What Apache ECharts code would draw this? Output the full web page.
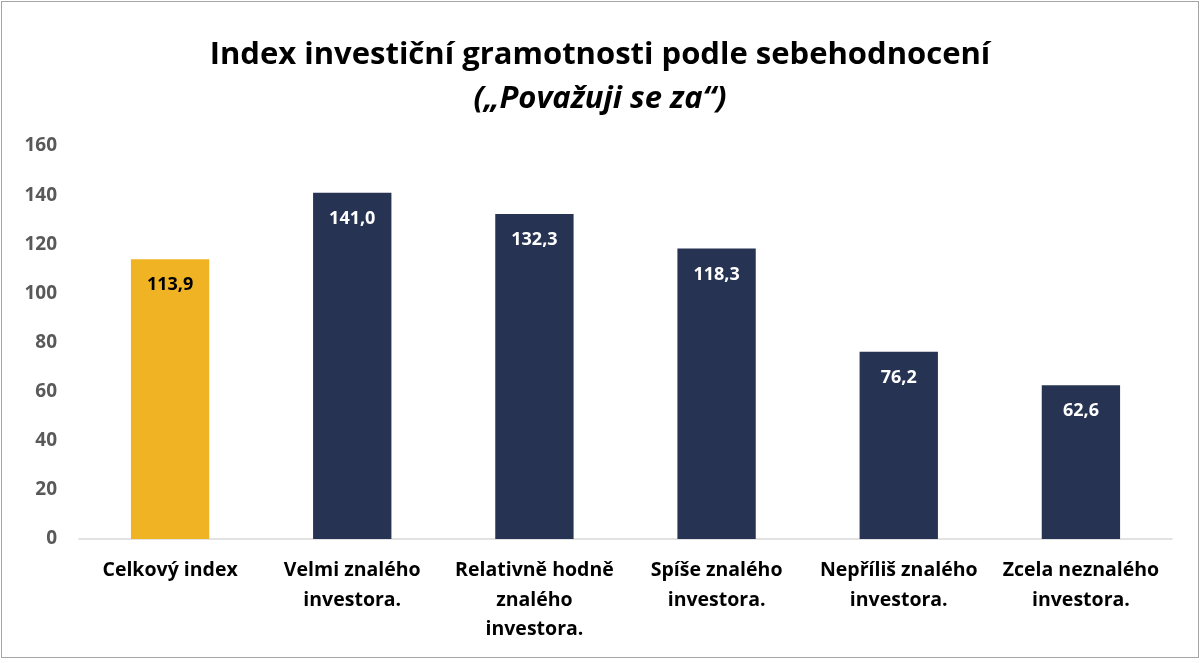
<!DOCTYPE html>
<html>
<head>
<meta charset="utf-8">
<script src="https://cdn.jsdelivr.net/npm/echarts@6/dist/echarts.min.js"></script>
<style>
html,body{margin:0;padding:0;background:#fff;}
#c{width:1196px;height:655px;border:1px solid #a6a6a6;margin:1px 0 0 1px;}
</style>
</head>
<body>
<div id="c"></div>
<script>
const categories = ["Celkový index", "Velmi znalého\ninvestora.", "Relativně hodně\nznalého\ninvestora.", "Spíše znalého\ninvestora.", "Nepříliš znalého\ninvestora.", "Zcela neznalého\ninvestora."];
const values = [113.9, 141.0, 132.3, 118.3, 76.2, 62.6];
const barColors = ["#F0B323", "#263352", "#263352", "#263352", "#263352", "#263352"];
const labelColors = ["#000000", "#ffffff", "#ffffff", "#ffffff", "#ffffff", "#ffffff"];

const chart = echarts.init(document.getElementById('c'));
chart.setOption({
  animation: false,
  title: [{
    text: 'Index investiční gramotnosti podle sebehodnocení',
    left: 'center', top: 33,
    textStyle: {fontFamily: 'Open Sans', fontWeight: 'bold', fontSize: 31, color: '#000'}
  }, {
    text: '(„Považuji se za“)',
    left: 'center', top: 77,
    textStyle: {fontFamily: 'Open Sans', fontWeight: 'bold', fontStyle: 'italic', fontSize: 31, color: '#000'}
  }],
  grid: {left: 77, right: 26, top: 144, bottom: 118, containLabel: false},
  xAxis: {
    type: 'category',
    data: categories,
    axisLine: {lineStyle: {color: '#d9d9d9', width: 1.5}},
    axisTick: {show: false},
    axisLabel: {interval: 0, fontFamily: 'Open Sans', fontWeight: 'bold', fontSize: 19.5, color: '#000', lineHeight: 29.5, margin: 17}
  },
  yAxis: {
    type: 'value', min: 0, max: 160, interval: 20,
    splitLine: {show: false},
    axisLine: {show: false},
    axisTick: {show: false},
    axisLabel: {fontFamily: 'Open Sans', fontWeight: 'bold', fontSize: 19, color: '#595959', margin: 22}
  },
  series: [{
    type: 'bar',
    barWidth: '43%',
    data: values.map((v, i) => ({
      value: v,
      itemStyle: {color: barColors[i]},
      label: {color: labelColors[i]}
    })),
    label: {
      show: true, position: 'insideTop', distance: 17,
      fontFamily: 'Open Sans', fontWeight: 'bold', fontSize: 18,
      formatter: p => p.value.toFixed(1).replace('.', ',')
    }
  }]
});
</script>
</body>
</html>
